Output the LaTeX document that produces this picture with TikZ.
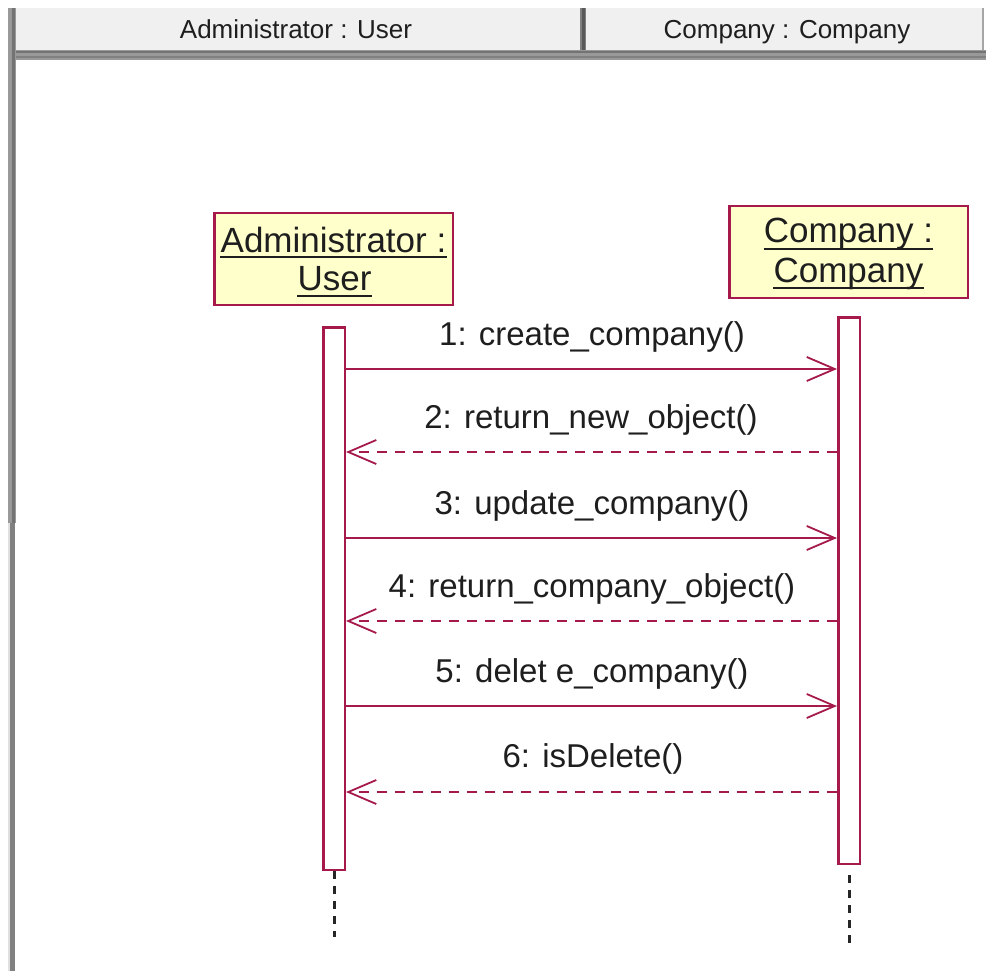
\documentclass[tikz,border=0pt]{standalone}
\usepackage{fontspec}
\setmainfont{Liberation Sans}
\usetikzlibrary{arrows.meta}
\definecolor{rose}{RGB}{165,25,75}
\definecolor{objfill}{RGB}{255,255,204}
\definecolor{hdrbg}{RGB}{240,240,240}
\definecolor{ink}{RGB}{30,30,30}
\begin{document}
\begin{tikzpicture}[x=1pt,y=-1pt,
  objbox/.style={draw=rose, line width=2.5pt, fill=objfill, minimum width=238.5pt, minimum height=91.5pt, inner sep=0pt},
  actbar/.style={draw=rose, line width=2.5pt, fill=white, minimum width=21.5pt, inner sep=0pt},
  objtxt/.style={font=\fontsize{35}{40}\selectfont, text=ink, anchor=base, inner sep=0pt},
  uline/.style={draw=ink, line width=2pt},
  msgtxt/.style={font=\fontsize{33}{38}\selectfont, text=ink, anchor=base, inner sep=0pt},
  hdrtxt/.style={font=\fontsize{26}{30}\selectfont, text=ink, anchor=base, inner sep=0pt},
  call/.style={draw=rose, line width=2.2pt, -{Straight Barb[length=28pt,width=24pt,line width=1.8pt]}},
  reply/.style={call, dash pattern=on 10pt off 8pt},
  lifeline/.style={draw=black!85, line width=3pt, dash pattern=on 8pt off 7pt},
]
\useasboundingbox (0,0) rectangle (986,971);
\fill[white] (0,0) rectangle (986,971);

% window frame: header bar
\fill[hdrbg] (11,8) rectangle (983,51);
\fill[black!35] (982,8) rectangle (984,51);
\fill[black!50] (580,8) rectangle (586,51);
\fill[black!65] (582,8) rectangle (584.5,51);
\fill[black!40] (8,50) rectangle (986,60);
\fill[black!55] (8,51.5) rectangle (986,53.5);
\fill[black!50] (8,56.5) rectangle (986,58.5);
% left frame
\fill[black!40] (8,8) rectangle (16,523);
\fill[black!55] (12,8) rectangle (15,523);
\fill[black!12] (8,523) rectangle (10,971);
\fill[black!50] (10,523) rectangle (15,971);

\node[hdrtxt] (h1) at (296,39) {Administrator : User};
\node[hdrtxt] (h2) at (787,39) {Company : Company};

% objects
\node[objbox] (admin) at (333.5,259) {};
\node[objtxt] (a1) at (333.5,252) {Administrator :~};
\node[objtxt] (a2) at (334.5,290) {User};
\draw[uline] ([yshift=-4.5pt]a1.base west) -- ([yshift=-4.5pt]a1.base east);
\draw[uline] ([yshift=-6pt]a2.base west) -- ([yshift=-6pt]a2.base east);

\node[objbox] (comp) at (848.5,252) {};
\node[objtxt] (c1) at (848.5,243) {Company :~};
\node[objtxt] (c2) at (848.5,282) {Company};
\draw[uline] ([yshift=-6pt]c1.base west) -- ([yshift=-6pt]c1.base east);
\draw[uline] ([yshift=-6pt]c2.base west) -- ([yshift=-6pt]c2.base east);

% activation bars
\node[actbar, minimum height=542.5pt] (abar) at (334,598.5) {};
\node[actbar, minimum height=546.5pt] (cbar) at (849,590.5) {};

% lifelines
\coordinate (aend) at (334,937);
\coordinate (cstart) at (849,875);
\coordinate (cend) at (849,943);
\draw[lifeline] (abar.south) -- (aend);
\draw[lifeline] (cstart) -- (cend);

% messages
\coordinate (m1) at (0,369);
\coordinate (m2) at (0,452);
\coordinate (m3) at (0,538);
\coordinate (m4) at (0,621);
\coordinate (m5) at (0,706);
\coordinate (m6) at (0,792);

\draw[call]  (abar.east |- m1) -- (cbar.west |- m1);
\draw[reply] (cbar.west |- m2) -- (abar.east |- m2);
\draw[call]  (abar.east |- m3) -- (cbar.west |- m3);
\draw[reply] (cbar.west |- m4) -- (abar.east |- m4);
\draw[call]  (abar.east |- m5) -- (cbar.west |- m5);
\draw[reply] (cbar.west |- m6) -- (abar.east |- m6);

\node[msgtxt] (l1) at (592,345) {1: create\_company()};
\node[msgtxt] (l2) at (591,428) {2: return\_new\_object()};
\node[msgtxt] (l3) at (592,514) {3: update\_company()};
\node[msgtxt] (l4) at (592,597) {4: return\_company\_object()};
\node[msgtxt] (l5) at (592,682) {5: delet e\_company()};
\node[msgtxt] (l6) at (593,767) {6: isDelete()};
\end{tikzpicture}
\end{document}
